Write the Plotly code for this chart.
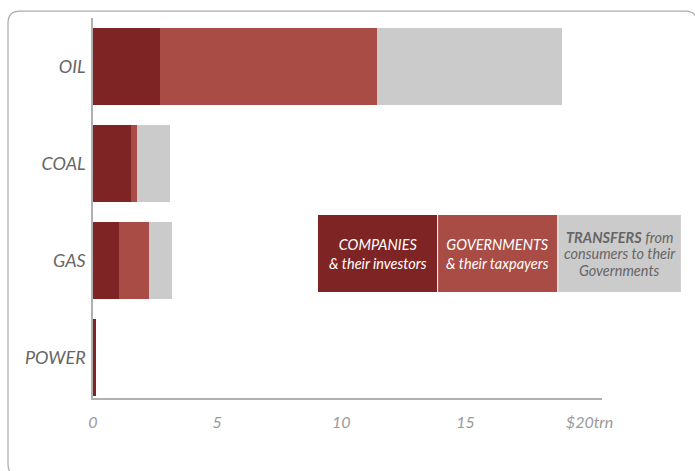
import plotly.graph_objects as go

# Fossil-fuel value split, $ trillion
sectors = ["OIL", "COAL", "GAS", "POWER"]
companies = [2.7, 1.55, 1.05, 0.12]
governments = [8.75, 0.22, 1.2, 0.0]
transfers = [7.45, 1.32, 0.92, 0.0]

tick_vals = [0, 5, 10, 15, 20]
tick_text = ["0", "5", "10", "15", "$20trn"]

C_DARK = "#7f2424"
C_MID = "#a84c45"
C_GREY = "#cbcbcb"
FONT = "Lato"

fig = go.Figure()
for name, vals, col in [("Companies", companies, C_DARK),
                        ("Governments", governments, C_MID),
                        ("Transfers", transfers, C_GREY)]:
    fig.add_trace(go.Bar(y=sectors, x=vals, orientation="h", name=name,
                         marker=dict(color=col, line=dict(width=0)),
                         width=0.8, hoverinfo="skip"))

# Key boxes, in paper units so the last one can run past the axis end
key = [
    (0.442, 0.676, C_DARK, ["COMPANIES<br>&amp; their investors"], "white"),
    (0.678, 0.912, C_MID, ["GOVERNMENTS<br>&amp; their taxpayers"], "white"),
    (0.914, 1.155, C_GREY, ["<b>TRANSFERS</b> from", "consumers to their", "Governments"], "#666666"),
]
shapes = []
annotations = []
for x0, x1, col, lines, tcol in key:
    shapes.append(dict(type="rect", xref="paper", yref="paper", x0=x0, x1=x1,
                       y0=0.279, y1=0.4816, fillcolor=col, line=dict(width=0), layer="above"))
    if len(lines) == 1:
        ys = [0.38]
    else:
        step = 16.5 / 380
        ys = [0.38 + step * (1 - i) for i in range(len(lines))]
    for txt, yy in zip(lines, ys):
        annotations.append(dict(xref="paper", yref="paper", x=(x0 + x1) / 2, y=yy,
                                text=txt, showarrow=False, align="center",
                                xanchor="center", yanchor="middle",
                                font=dict(family=FONT, size=14.5, color=tcol, style="italic")))

# Rounded frame around the chart
L, R, T, B = -0.167, 1.187, 1.018, -0.205
rx, ry = 0.0236, 0.0316
frame = (f"M {L+rx},{T} L {R-rx},{T} Q {R},{T} {R},{T-ry} "
         f"L {R},{B+ry} Q {R},{B} {R-rx},{B} L {L+rx},{B} Q {L},{B} {L},{B+ry} "
         f"L {L},{T-ry} Q {L},{T} {L+rx},{T} Z")
shapes.append(dict(type="path", xref="paper", yref="paper", path=frame,
                   line=dict(color="#aaaaaa", width=1.2), layer="below"))

fig.update_layout(
    barmode="stack",
    width=695, height=471,
    margin=dict(l=93, r=93, t=18, b=73),
    paper_bgcolor="white", plot_bgcolor="white",
    showlegend=False,
    shapes=shapes,
    annotations=annotations,
    xaxis=dict(range=[0, 20.5], tickvals=tick_vals, ticktext=tick_text,
               showgrid=False, zeroline=False, showline=True, linecolor="#b0b0b0",
               linewidth=1.5, ticks="", ticklabelstandoff=9,
               tickfont=dict(family=FONT, size=16, color="#999999", style="italic")),
    yaxis=dict(categoryorder="array", categoryarray=sectors[::-1],
               range=[-0.42, 3.5], showgrid=False, zeroline=False,
               showline=True, linecolor="#b0b0b0", linewidth=1.5, ticks="",
               ticklabelstandoff=2,
               tickfont=dict(family=FONT, size=18, color="#666666", style="italic")),
)

fig.write_html("out.html")
